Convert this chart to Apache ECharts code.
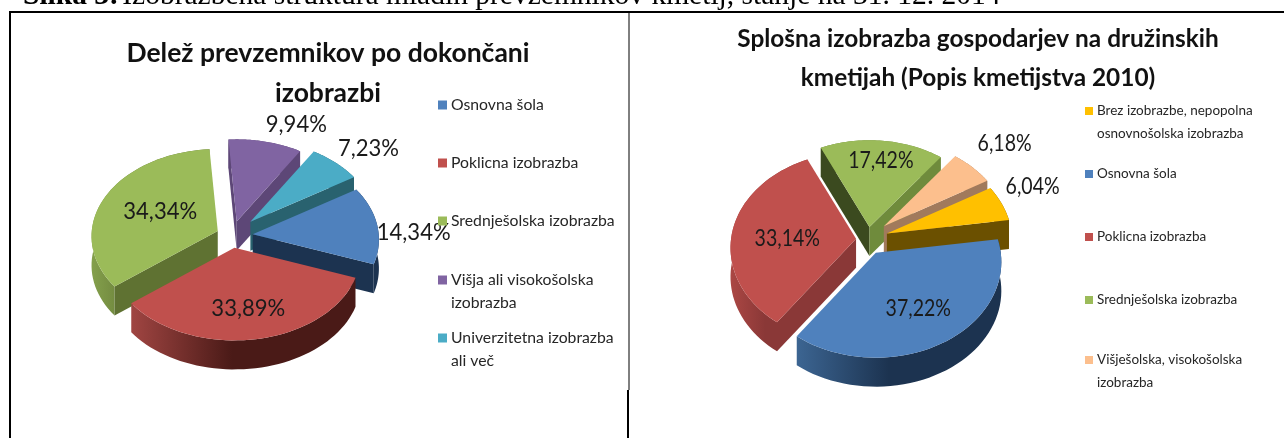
<!DOCTYPE html>
<html>
<head>
<meta charset="utf-8">
<style>html,body{margin:0;padding:0;background:#fff}#main{width:1284px;height:438px}</style>
<script src="https://cdn.jsdelivr.net/npm/echarts@6/dist/echarts.min.js"></script>
</head>
<body>
<div id="main"></div>
<script>
// podatki - levi graf
var leftNames = ['Osnovna šola', 'Poklicna izobrazba', 'Srednješolska izobrazba', 'Višja ali visokošolska\nizobrazba', 'Univerzitetna izobrazba\nali več'];
var leftValues = [14.34, 33.89, 34.34, 9.94, 7.23];
// podatki - desni graf
var rightNames = ['Brez izobrazbe, nepopolna\nosnovnošolska izobrazba', 'Osnovna šola', 'Poklicna izobrazba', 'Srednješolska izobrazba', 'Višješolska, visokošolska\nizobrazba'];
var rightValues = [6.04, 37.22, 33.14, 17.42, 6.18];

var leftColors = [
    {top: '#4f81bd', wall: '#1c3350', rim: ['#1c3350', '#1c3350']},
    {top: '#c0504d', wall: '#4a1a17', rim: ['#a04542', '#4a1a17']},
    {top: '#9bbb59', wall: '#5f7232', rim: ['#84a04c', '#5f7232']},
    {top: '#8064a2', wall: '#5d4777', rim: ['#5d4777', '#5d4777']},
    {top: '#4bacc6', wall: '#29626f', rim: ['#29626f', '#29626f']}
];
var rightColors = [
    {top: '#ffc000', wall: '#6b5000', rim: ['#6b5000', '#6b5000']},
    {top: '#4f81bd', wall: '#1c3350', rim: ['#3c6592', '#1c3350']},
    {top: '#c0504d', wall: '#8a3837', rim: ['#ab4744', '#8a3837']},
    {top: '#9bbb59', wall: '#3b4a1f', wall2: '#6f8b3c', rim: ['#6f8b3c', '#6f8b3c']},
    {top: '#fcbf8d', wall: '#a17a5c', rim: ['#a17a5c', '#a17a5c']}
];

var leftPie = {
    names: leftNames, values: leftValues, colors: leftColors,
    cx: 232, cy: 236, a: 126, b: 87, k: 0.06, depth: 29, startAngle: 58,
    explode: [16, 12, 12, 15, 20], explodeX: 1.3,
    fontSize: 24, labelScale: 0.92,
    labelR: [1.28, 0.67, 0.52, 1.3, 1.33],
    labelTurn: [5, 0, 3, 9, 3]
};
var rightPie = {
    names: rightNames, values: rightValues, colors: rightColors,
    cx: 868, cy: 240, a: 125, b: 95, k: 0.094, depth: 29, startAngle: 60,
    explode: [20, 15, 12, 13, 21], explodeX: 1,
    fontSize: 23, labelScale: 0.85,
    labelR: [1.33, 0.64, 0.55, 0.76, 1.42],
    labelTurn: [-4, 1, -5.5, 1, -1]
};

function toRad(d) { return d * Math.PI / 180; }

// izračun kota rezine iz vrednosti
function sliceAngles(pie, i) {
    var total = pie.values.reduce(function (s, v) { return s + v; }, 0);
    var before = pie.values.slice(0, i).reduce(function (s, v) { return s + v; }, 0);
    var start = pie.startAngle + before / total * 360;
    return {start: start, end: start + pie.values[i] / total * 360};
}

// krog -> elipsa s perspektivo
function project(pie, deg, r) {
    var u = r * Math.sin(toRad(deg));
    var v = -r * Math.cos(toRad(deg));
    var w = 1 - pie.k * v;
    return [pie.a * u / w, pie.b * v / w];
}

function pieSeries(pie) {
    var order = pie.values.map(function (v, i) { return i; });
    var depthOf = function (i) {
        var an = sliceAngles(pie, i);
        return -Math.cos(toRad((an.start + an.end) / 2));
    };
    order.sort(function (p, q) { return depthOf(p) - depthOf(q); });

    return order.map(function (i) {
        var c = pie.colors[i];
        return {
            type: 'custom',
            name: pie.names[i],
            coordinateSystem: 'none',
            silent: true,
            animation: false,
            itemStyle: {color: c.top},
            data: [[pie.values[i]]],
            renderItem: function (params, api) {
                var val = api.value(0);
                var an = sliceAngles(pie, i);
                var mid = (an.start + an.end) / 2;
                var ox = pie.cx + pie.explode[i] * pie.explodeX * Math.sin(toRad(mid));
                var oy = pie.cy - pie.explode[i] * Math.cos(toRad(mid));
                var pt = function (deg, r, down) {
                    var p = project(pie, deg, r);
                    return [ox + p[0], oy + p[1] + (down || 0)];
                };
                var arc = [], low = [];
                for (var s = 0; s <= 48; s++) {
                    var d = an.start + (an.end - an.start) * s / 48;
                    arc.push(pt(d, 1));
                    low.unshift(pt(d, 1, pie.depth));
                }
                var kids = [{
                    type: 'polygon',
                    shape: {points: arc.concat(low)},
                    style: {fill: {type: 'linear', x: 0, y: 0, x2: 1, y2: 0, colorStops: [
                        {offset: 0, color: c.rim[0]}, {offset: 0.45, color: c.rim[1]}, {offset: 1, color: c.rim[1]}
                    ]}}
                }];
                var wall = function (deg, fill) {
                    kids.push({
                        type: 'polygon',
                        shape: {points: [pt(deg, 0), pt(deg, 1), pt(deg, 1, pie.depth), pt(deg, 0, pie.depth)]},
                        style: {fill: fill}
                    });
                };
                if (Math.sin(toRad(an.start)) < 0) wall(an.start, c.wall);
                if (Math.sin(toRad(an.end)) > 0) wall(an.end, c.wall2 || c.wall);
                kids.push({
                    type: 'polygon',
                    shape: {points: [pt(an.start, 0)].concat(arc)},
                    style: {fill: c.top}
                });
                var lp = pt(mid + pie.labelTurn[i], pie.labelR[i]);
                kids.push({
                    type: 'text',
                    x: lp[0], y: lp[1],
                    scaleX: pie.labelScale,
                    style: {
                        text: val.toFixed(2).replace('.', ',') + '%',
                        fill: '#1a1a1a',
                        font: pie.fontSize + 'px Lato',
                        align: 'center',
                        verticalAlign: 'middle'
                    }
                });
                return {type: 'group', children: kids};
            }
        };
    });
}

// legenda - vsaka vrstica posebej, prva vrstica besedila je poravnana s kvadratkom
function legendRow(name, x, y, size, lh, box) {
    var two = name.indexOf('\n') >= 0;
    return {
        data: [name],
        left: x,
        top: y - (two ? lh * 1.5 : lh / 2),
        padding: 0,
        selectedMode: false,
        itemWidth: box,
        itemHeight: box,
        itemGap: 0,
        icon: 'rect',
        formatter: function (n) { return two ? '\n' + n : n; },
        textStyle: {fontFamily: 'Lato', fontSize: size, lineHeight: lh, color: '#262626', padding: [0, 0, 0, -1]}
    };
}

var leftRows = [105, 163, 221, 280, 338];
var rightRows = [111, 174, 237, 300, 360];
var legends = leftNames.map(function (n, i) { return legendRow(n, 438, leftRows[i], 15.75, 23, 9); })
    .concat(rightNames.map(function (n, i) { return legendRow(n, 1085, rightRows[i], 13.5, 23, 8); }));

function border(x1, y1, x2, y2, w) {
    return {type: 'line', silent: true, shape: {x1: x1, y1: y1, x2: x2, y2: y2}, style: {stroke: '#000', lineWidth: w}};
}

var myChart = echarts.init(document.getElementById('main'), null, {renderer: 'canvas'});
var option = {
    backgroundColor: '#fff',
    animation: false,
    title: [
        {text: 'Delež prevzemnikov po dokončani\nizobrazbi', left: 323, top: 28, textAlign: 'center',
            textStyle: {fontFamily: 'Lato', fontWeight: 'bold', fontSize: 26.5, lineHeight: 40, color: '#111'}},
        {text: 'Splošna izobrazba gospodarjev na družinskih\nkmetijah (Popis kmetijstva 2010)', left: 973, top: 15, textAlign: 'center',
            textStyle: {fontFamily: 'Lato', fontWeight: 'bold', fontSize: 24.4, lineHeight: 39, color: '#111'}}
    ],
    legend: legends,
    graphic: [
        {type: 'text', x: 23, y: 11, silent: true, style: {
            rich: {
                b: {font: 'bold 29.5px "Liberation Serif"', fill: '#000'},
                n: {font: '29.5px "Liberation Serif"', fill: '#000'}
            },
            text: '{b|Slika 3:} {n|Izobrazbena struktura mladih prevzemnikov kmetij, stanje na 31. 12. 2014}',
            verticalAlign: 'bottom'
        }},
        border(9, 12, 1284, 12, 2),
        border(10, 12, 10, 438, 2),
        border(629, 12, 629, 390, 1),
        border(628, 390, 628, 438, 2)
    ],
    series: pieSeries(leftPie).concat(pieSeries(rightPie))
};
myChart.setOption(option);
</script>
</body>
</html>
